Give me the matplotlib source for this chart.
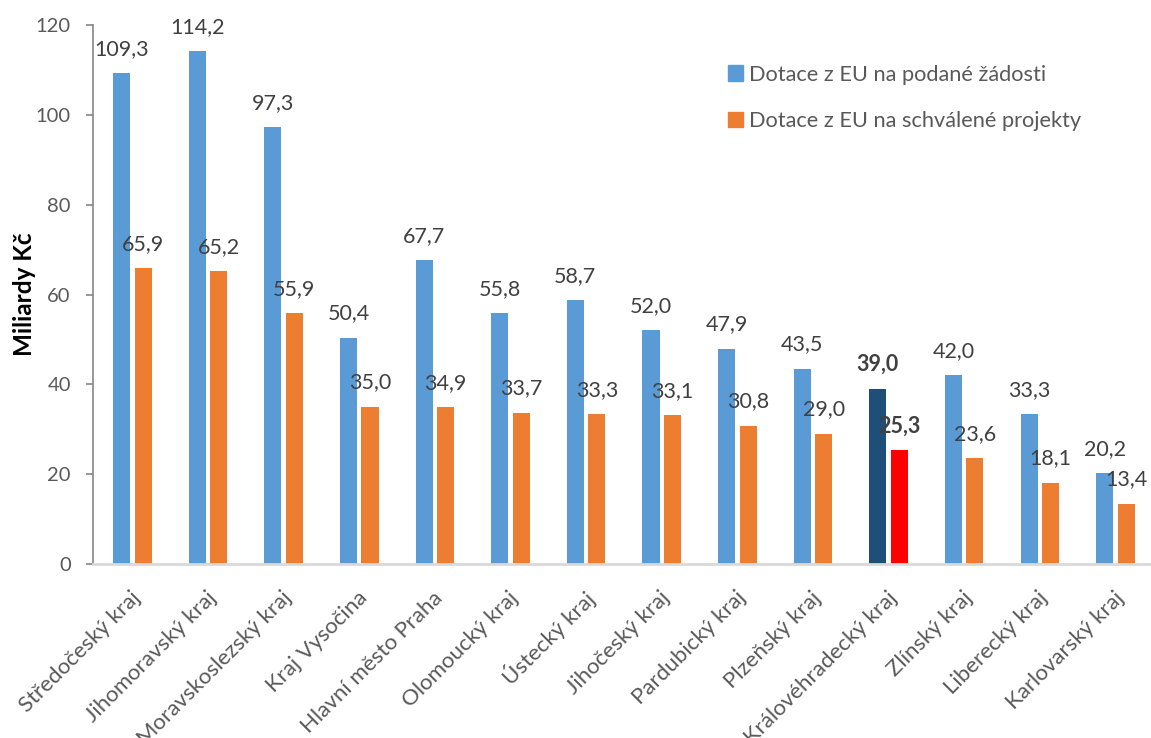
import numpy as np
import matplotlib
matplotlib.use('Agg')
import matplotlib.pyplot as plt
from matplotlib.transforms import ScaledTranslation

plt.rcParams['font.family'] = ['Lato', 'DejaVu Sans']

regions = ['Středočeský kraj', 'Jihomoravský kraj', 'Moravskoslezský kraj',
           'Kraj Vysočina', 'Hlavní město Praha', 'Olomoucký kraj',
           'Ústecký kraj', 'Jihočeský kraj', 'Pardubický kraj',
           'Plzeňský kraj', 'Královéhradecký kraj', 'Zlínský kraj',
           'Liberecký kraj', 'Karlovarský kraj']
podane = [109.3, 114.2, 97.3, 50.4, 67.7, 55.8, 58.7, 52.0, 47.9, 43.5,
          39.0, 42.0, 33.3, 20.2]
schvalene = [65.9, 65.2, 55.9, 35.0, 34.9, 33.7, 33.3, 33.1, 30.8, 29.0,
             25.3, 23.6, 18.1, 13.4]
highlight = 'Královéhradecký kraj'
series_names = ['Dotace z EU na podané žádosti',
                'Dotace z EU na schválené projekty']

BLUE = '#5B9BD5'
ORANGE = '#ED7D31'
DARK = '#1F4E79'
RED = '#FF0000'
TXT = '#404040'

fig = plt.figure(figsize=(11.51, 7.38), dpi=100)
ax = fig.add_axes([93 / 1151, 1 - 564 / 738, 1 - 93 / 1151, (564 - 25) / 738])

x = np.arange(len(regions))
w = 0.225
off = 0.142
c1 = [DARK if r == highlight else BLUE for r in regions]
c2 = [RED if r == highlight else ORANGE for r in regions]
b1 = ax.bar(x - off, podane, w, color=c1, label=series_names[0], zorder=2)
b2 = ax.bar(x + off, schvalene, w, color=c2, label=series_names[1], zorder=2)

for bars, vals in ((b1, podane), (b2, schvalene)):
    for b, v, r in zip(bars, vals, regions):
        ax.annotate(f'{v:.1f}'.replace('.', ','),
                    (b.get_x() + b.get_width() / 2, v),
                    xytext=(0, 17.5), textcoords='offset points',
                    ha='center', va='center', fontsize=15.5, color=TXT,
                    fontweight='bold' if r == highlight else 'normal')

ax.set_xlim(-0.521, 13.47)
ax.set_ylim(0, 120)
ax.set_yticks(range(0, 121, 20))
ax.tick_params(axis='y', length=5, width=1.2, color='#868686', pad=11,
               labelsize=14.5, labelcolor='#595959')
ax.tick_params(axis='x', length=0, pad=22)
ax.set_xticks(x)
ax.set_xticklabels(regions, rotation=45, ha='right', va='center',
                   rotation_mode='anchor', fontsize=16, color='#595959')
shift = ScaledTranslation(5 / 100, 0, fig.dpi_scale_trans)
for lab in ax.get_xticklabels():
    lab.set_transform(lab.get_transform() + shift)

for s in ('top', 'right'):
    ax.spines[s].set_visible(False)
ax.spines['left'].set_color('#868686')
ax.spines['left'].set_linewidth(1.2)
ax.spines['bottom'].set_color('#D9D9D9')
ax.spines['bottom'].set_linewidth(2)

ax.set_ylabel('Miliardy Kč', fontsize=17.5, fontweight='bold', color='black')
ax.yaxis.set_label_coords(-0.054, 0.5)

leg = ax.legend(handles=[b1[0], b2[0]], labels=series_names, frameon=False,
                loc='upper left', bbox_to_anchor=(708 / 1151, 1 - 45 / 738),
                bbox_transform=fig.transFigure, fontsize=15.7, handlelength=0.7,
                handleheight=0.7, handletextpad=0.3, labelspacing=1.2)
leg.legend_handles[0].set_color(BLUE)
leg.legend_handles[1].set_color(ORANGE)
for t in leg.get_texts():
    t.set_color('#595959')

fig.savefig('out.png', dpi=100)
